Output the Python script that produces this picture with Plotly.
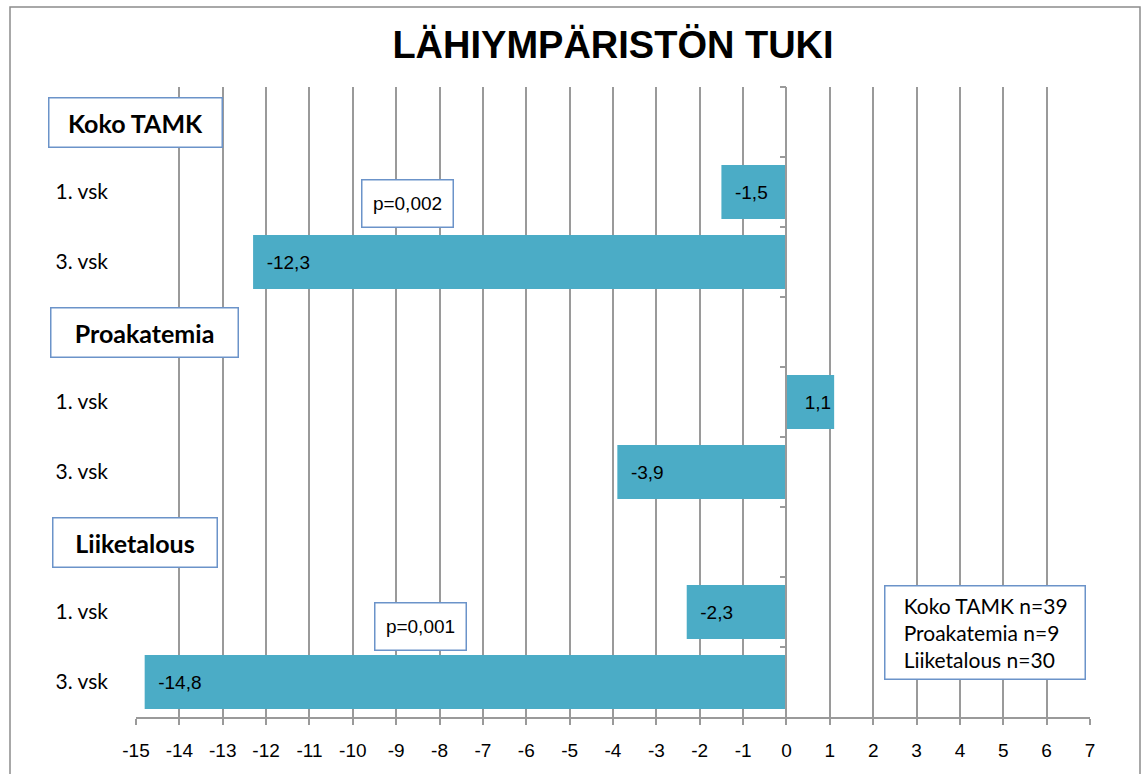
import plotly.graph_objects as go

# data
groups = ["Koko TAMK", "Proakatemia", "Liiketalous"]
years = ["1. vsk", "3. vsk"]
values = [-1.5, -12.3, 1.1, -3.9, -2.3, -14.8]
p_values = ["p=0,002", None, "p=0,001"]
n_counts = [39, 9, 30]

# one header row per group, then one row per year
rows, row_text, bar_vals = [], [], []
k = 0
for g in groups:
    rows.append(g)
    row_text.append("")
    bar_vals.append(None)
    for yr in years:
        rows.append(g + " " + yr)
        row_text.append(yr)
        bar_vals.append(values[k])
        k += 1

BAR = "#4BACC6"
GRID = "#9a9a9a"
BOX = "#6b93c9"
CAL = "Lato, 'Noto Sans', sans-serif"
ARIAL = "'Liberation Sans', Arial, sans-serif"
NB = "\u00a0"

fig = go.Figure()
fig.add_trace(go.Bar(
    x=bar_vals, y=rows, orientation="h",
    marker=dict(color=BAR, line=dict(width=0)),
    width=0.77,
    texttemplate=NB * 2 + "%{x:.1f}",
    textposition="inside", insidetextanchor="end",
    textfont=dict(family=ARIAL, size=19, color="black"),
    hoverinfo="skip", showlegend=False,
))
# invisible trace so the zero axis (y2) gets the same categories
fig.add_trace(go.Scatter(
    x=[0] * len(rows), y=rows, yaxis="y2", mode="markers",
    marker=dict(opacity=0), hoverinfo="skip", showlegend=False,
))

xt = list(range(-15, 8))
fig.update_layout(
    width=1142, height=774,
    margin=dict(l=136, r=52, t=87, b=57),
    paper_bgcolor="white", plot_bgcolor="white",
    separators=", ",
    title=dict(text="<b>LÄHIYMPÄRISTÖN TUKI</b>", x=0.5, xref="paper",
               y=1 - 45 / 774, yanchor="middle",
               font=dict(family=ARIAL, size=38, color="black")),
    xaxis=dict(range=[-15, 7], tickvals=xt, ticktext=[str(v) for v in xt],
               showgrid=True, gridcolor=GRID, gridwidth=1.5,
               zeroline=False, showline=True, linecolor=GRID, linewidth=1.5,
               ticks="outside", ticklen=6, tickcolor=GRID, tickwidth=1.5,
               ticklabelstandoff=9,
               tickfont=dict(family=ARIAL, size=19, color="black")),
    yaxis=dict(type="category", categoryorder="array", categoryarray=rows,
               autorange="reversed", tickvals=rows, ticktext=row_text,
               showgrid=False, zeroline=False, showline=False, ticks="",
               ticklabelstandoff=27,
               tickfont=dict(family=CAL, size=21, color="black")),
    yaxis2=dict(type="category", categoryorder="array", categoryarray=rows,
                autorange="reversed", overlaying="y", anchor="free",
                position=15 / 22, side="left",
                showticklabels=False, showgrid=False, zeroline=False,
                showline=True, linecolor=GRID, linewidth=1.5,
                ticks="outside", tickson="boundaries", ticklen=6,
                tickcolor=GRID, tickwidth=1.5),
)

# group header boxes
hdr_w = [170, 184, 161]
hdr_x = [48, 50, 52]
for g, w, x0 in zip(groups, hdr_w, hdr_x):
    fig.add_annotation(
        x=(x0 - 136) / 954, xref="paper", xanchor="left", y=g, yref="y",
        text="<b>" + g + "</b>", showarrow=False, width=w, height=46,
        bordercolor=BOX, borderwidth=1.5, borderpad=1, bgcolor="white",
        font=dict(family=CAL, size=25, color="black"))

# p-value boxes
p_pos = [(-8.75, 1.17), None, (-8.45, 7.21)]
for p, pos in zip(p_values, p_pos):
    if p is None:
        continue
    fig.add_annotation(
        x=pos[0], y=pos[1], xref="x", yref="y", text=p, showarrow=False,
        width=88, height=44, borderpad=1,
        bordercolor=BOX, borderwidth=1.5, bgcolor="white",
        font=dict(family=ARIAL, size=19, color="black"))

# n box
n_text = "<br>".join(NB * 3 + f"{g} n={n}" for g, n in zip(groups, n_counts))
fig.add_annotation(
    x=(884 - 136) / 954, xref="paper", xanchor="left",
    y=(717 - 632) / 630, yref="paper", yanchor="middle",
    text=n_text, showarrow=False, align="left",
    width=195, height=88, borderpad=2,
    bordercolor=BOX, borderwidth=1.5, bgcolor="white",
    font=dict(family=CAL, size=21, color="black"))

# outer chart border
fig.add_shape(type="rect", xref="paper", yref="paper",
              x0=(10 - 136) / 954, x1=(1140 - 136) / 954,
              y0=(717 - 800) / 630, y1=(717 - 7) / 630,
              line=dict(color="#8c8c8c", width=1.5), layer="below")

fig.write_html("out.html", config={"displayModeBar": False},
               post_script="document.body.style.margin='0';")
